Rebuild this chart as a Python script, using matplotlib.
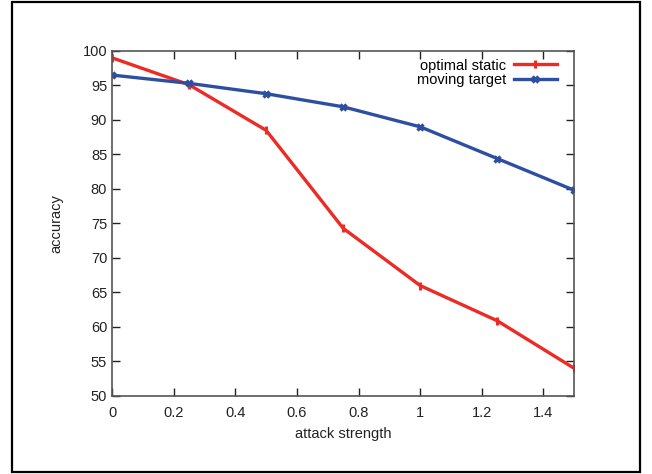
import matplotlib
matplotlib.use("Agg")
import matplotlib.pyplot as plt
from matplotlib.patches import Rectangle

plt.rcParams['font.family'] = ['Liberation Sans', 'DejaVu Sans']

strength = [0, 0.25, 0.5, 0.75, 1.0, 1.25, 1.5]
optimal_static = [99.0, 95.1, 88.5, 74.3, 66.0, 60.9, 54.0]
moving_target = [96.5, 95.3, 93.8, 91.9, 89.0, 84.4, 79.8]

RED = '#ee2a24'
BLUE = '#2e4ea2'
FS = 10.5

fig = plt.figure(figsize=(6.52, 4.74), dpi=100)
ax = fig.add_axes([0.1718, 0.1646, 0.709, 0.728])

ax.plot(strength, optimal_static, color=RED, linewidth=2.4, marker='|',
        markersize=6, markeredgewidth=2.2, label='optimal static')
ax.plot(strength, moving_target, color=BLUE, linewidth=2.4, marker='x',
        markersize=5, markeredgewidth=2.4, label='moving target')

ax.set_xlim(0, 1.5)
ax.set_ylim(50, 100)
ax.set_xticks([0, 0.2, 0.4, 0.6, 0.8, 1, 1.2, 1.4])
ax.set_xticklabels(['0', '0.2', '0.4', '0.6', '0.8', '1', '1.2', '1.4'])
ax.set_yticks(range(50, 101, 5))
ax.tick_params(direction='in', top=True, right=True, length=6,
               labelsize=FS, colors='#222222', width=1)
ax.tick_params(axis='x', pad=7)
for s in ax.spines.values():
    s.set_color('#555555')
    s.set_linewidth(1.2)

ax.set_xlabel('attack strength', fontsize=FS, color='#222222', labelpad=5)
ax.set_ylabel('accuracy', fontsize=FS, color='#222222', labelpad=14)

ax.legend(loc='upper right', bbox_to_anchor=(0.965, 0.982), frameon=False,
          markerfirst=False, fontsize=FS, handlelength=2.9, borderaxespad=0,
          labelspacing=0.05, handletextpad=0.55, borderpad=0.1)

# outer frame around the figure
fig.patches.append(Rectangle((12 / 652, 2 / 474), 628 / 652, 470 / 474,
                             transform=fig.transFigure, fill=False,
                             edgecolor='black', linewidth=1.6))

fig.savefig('out.png', dpi=100)
